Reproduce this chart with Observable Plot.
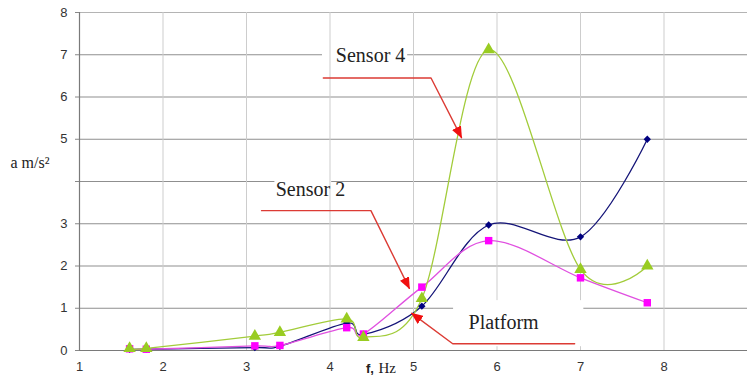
<!DOCTYPE html>
<html><head><meta charset="utf-8">
<script src="https://cdn.jsdelivr.net/npm/d3@7"></script>
<script src="https://cdn.jsdelivr.net/npm/@observablehq/plot@0.6"></script>
<style>body{margin:0;background:#fff}#chart svg{display:block}</style>
</head><body><div id="chart"></div>
<script>
// ---- data ----
const freq      = [1.6, 1.8, 3.1, 3.4, 4.2, 4.4, 5.1, 5.9, 7.0, 7.8];
const sensor4   = [0.05, 0.05, 0.34, 0.43, 0.75, 0.31, 1.23, 7.12, 1.92, 2.0];
const platform  = [0.03, 0.03, 0.07, 0.1, 0.65, 0.38, 1.05, 2.97, 2.69, 5.0];
const sensor2   = [0.04, 0.03, 0.11, 0.12, 0.54, 0.39, 1.5, 2.6, 1.72, 1.13];
const xTicks = [1, 2, 3, 4, 5, 6, 7, 8];
const yTicks = [0, 1, 2, 3, 4, 5, 6, 7, 8];
const yTickLabels = ["0", "1", "2", "3", "", "5", "6", "7", "8"];
const xLabel = ["f,", "Hz"];
const yLabel = "a m/s²";

// annotation labels and arrow polylines (data units)
const annotLabels = ["Sensor 4", "Sensor 2", "Platform"];
const annotTextX  = [4.07, 3.35, 5.66];
const annotTextY  = [6.98, 3.81, 0.67];
const arrowS4 = [[3.92, 6.45], [5.21, 6.45], [5.575, 5.04]];
const arrowS2 = [[3.18, 3.31], [4.49, 3.31], [4.95, 1.47]];
const arrowPl = [[6.93, 0.16], [5.47, 0.16], [4.98, 0.88]];
// white label boxes [x1, x2, y1, y2]
const boxS4 = [3.91, 4.93, 6.58, 7.38];
const boxS2 = [3.34, 4.02, 3.55, 4.21];
const boxPl = [5.48, 7.04, 0.09, 1.18];

// ---- styles ----
const ARROW = "#dc3b34";
const seriesStyle = [
  {name: "Platform", values: platform, line: "#141478", fill: "#000080", symbol: "diamond2", r: 3.3},
  {name: "Sensor 2", values: sensor2, line: "#e050e0", fill: "#ff00ff", symbol: "square", r: 4.2},
  {name: "Sensor 4", values: sensor4, line: "#a2cc3a", fill: "#99cc22", symbol: "triangle", r: 4.6}
];

const rows = seriesStyle.flatMap(s => freq.map((f, i) => ({series: s.name, f, v: s.values[i]})));
const arrows = [["s4", arrowS4], ["s2", arrowS2], ["pl", arrowPl]]
  .flatMap(([id, pts]) => pts.map(([x, y]) => ({id, x, y})));
const texts = annotLabels.map((t, i) => ({t, x: annotTextX[i], y: annotTextY[i]}));
const boxRow = b => ({x1: b[0], x2: b[1], y1: b[2], y2: b[3]});

const plot = Plot.plot({
  width: 747, height: 381,
  marginLeft: 79, marginRight: 0, marginTop: 12, marginBottom: 31,
  style: {fontFamily: "'Liberation Sans', Arial, sans-serif", fontSize: "13px", color: "#333", background: "#fff"},
  x: {domain: [1, 9], axis: null},
  y: {domain: [0, 8], axis: null},
  marks: [
    Plot.ruleY(yTicks.filter(d => d > 0 && d < 8), {stroke: "#8f8f8f", strokeWidth: 1}),
    Plot.ruleY([8], {stroke: "#b4b4b4", strokeWidth: 1.2}),
    Plot.rect([boxRow(boxS4), boxRow(boxS2)], {x1: "x1", x2: "x2", y1: "y1", y2: "y2", fill: "#fff"}),
    Plot.ruleX(xTicks.filter(d => d > 1), {stroke: "#cdcdcd", strokeWidth: 1}),
    Plot.rect([boxRow(boxPl)], {x1: "x1", x2: "x2", y1: "y1", y2: "y2", fill: "#fff"}),
    Plot.ruleX([1], {stroke: "#7a7a7a", strokeWidth: 1.2}),
    Plot.ruleY([0], {stroke: "#7a7a7a", strokeWidth: 1.2}),
    Plot.axisX(xTicks, {tickSize: 0, tickPadding: 11, fontSize: 13, fill: "#333", label: null}),
    Plot.axisY(yTicks, {tickSize: 4, tickPadding: 8, fontSize: 13, stroke: "#888", fill: "#333",
      tickFormat: d => yTickLabels[yTicks.indexOf(d)], label: null}),
    ...seriesStyle.map(s => Plot.line(rows.filter(r => r.series === s.name),
      {x: "f", y: "v", stroke: s.line, strokeWidth: 1.3, curve: "cardinal", tension: 0})),
    ...seriesStyle.map(s => Plot.dot(rows.filter(r => r.series === s.name),
      {x: "f", y: "v", symbol: () => s.symbol, fill: s.fill, r: s.r, stroke: "none"})),
    Plot.line(arrows, {x: "x", y: "y", z: "id", stroke: ARROW, strokeWidth: 1.4}),
    Plot.text(texts, {x: "x", y: "y", text: "t", textAnchor: "start", fontFamily: "'Liberation Serif', 'Times New Roman', serif",
      fontSize: 20, fill: "#222"}),
    Plot.text([yLabel], {frameAnchor: "left", y: 4.45, text: d => d, textAnchor: "start", dx: -69,
      fontFamily: "'Liberation Serif', serif", fontSize: 16, fill: "#222"}),
    Plot.text([xLabel[0]], {x: 4.43, frameAnchor: "bottom", text: d => d, textAnchor: "start", dy: 22,
      fontWeight: "bold", fontSize: 13, fill: "#222"}),
    Plot.text([xLabel[1]], {x: 4.58, frameAnchor: "bottom", text: d => d, textAnchor: "start", dy: 22,
      fontFamily: "'Liberation Serif', serif", fontSize: 15, fill: "#222"})
  ]
});

// filled arrowheads for the annotation leaders
const ns = "http://www.w3.org/2000/svg";
const defs = document.createElementNS(ns, "defs");
const marker = document.createElementNS(ns, "marker");
marker.setAttribute("id", "ahead");
marker.setAttribute("viewBox", "0 0 12 10");
marker.setAttribute("refX", "11");
marker.setAttribute("refY", "5");
marker.setAttribute("markerWidth", "12");
marker.setAttribute("markerHeight", "10");
marker.setAttribute("markerUnits", "userSpaceOnUse");
marker.setAttribute("orient", "auto");
const mp = document.createElementNS(ns, "path");
mp.setAttribute("d", "M0,0L12,5L0,10Z");
mp.setAttribute("fill", "#f01010");
marker.appendChild(mp);
defs.appendChild(marker);
plot.insertBefore(defs, plot.firstChild);
plot.querySelectorAll('[stroke="' + ARROW + '"] path, path[stroke="' + ARROW + '"]')
  .forEach(p => p.setAttribute("marker-end", "url(#ahead)"));

document.getElementById("chart").appendChild(plot);
</script>
</body></html>
